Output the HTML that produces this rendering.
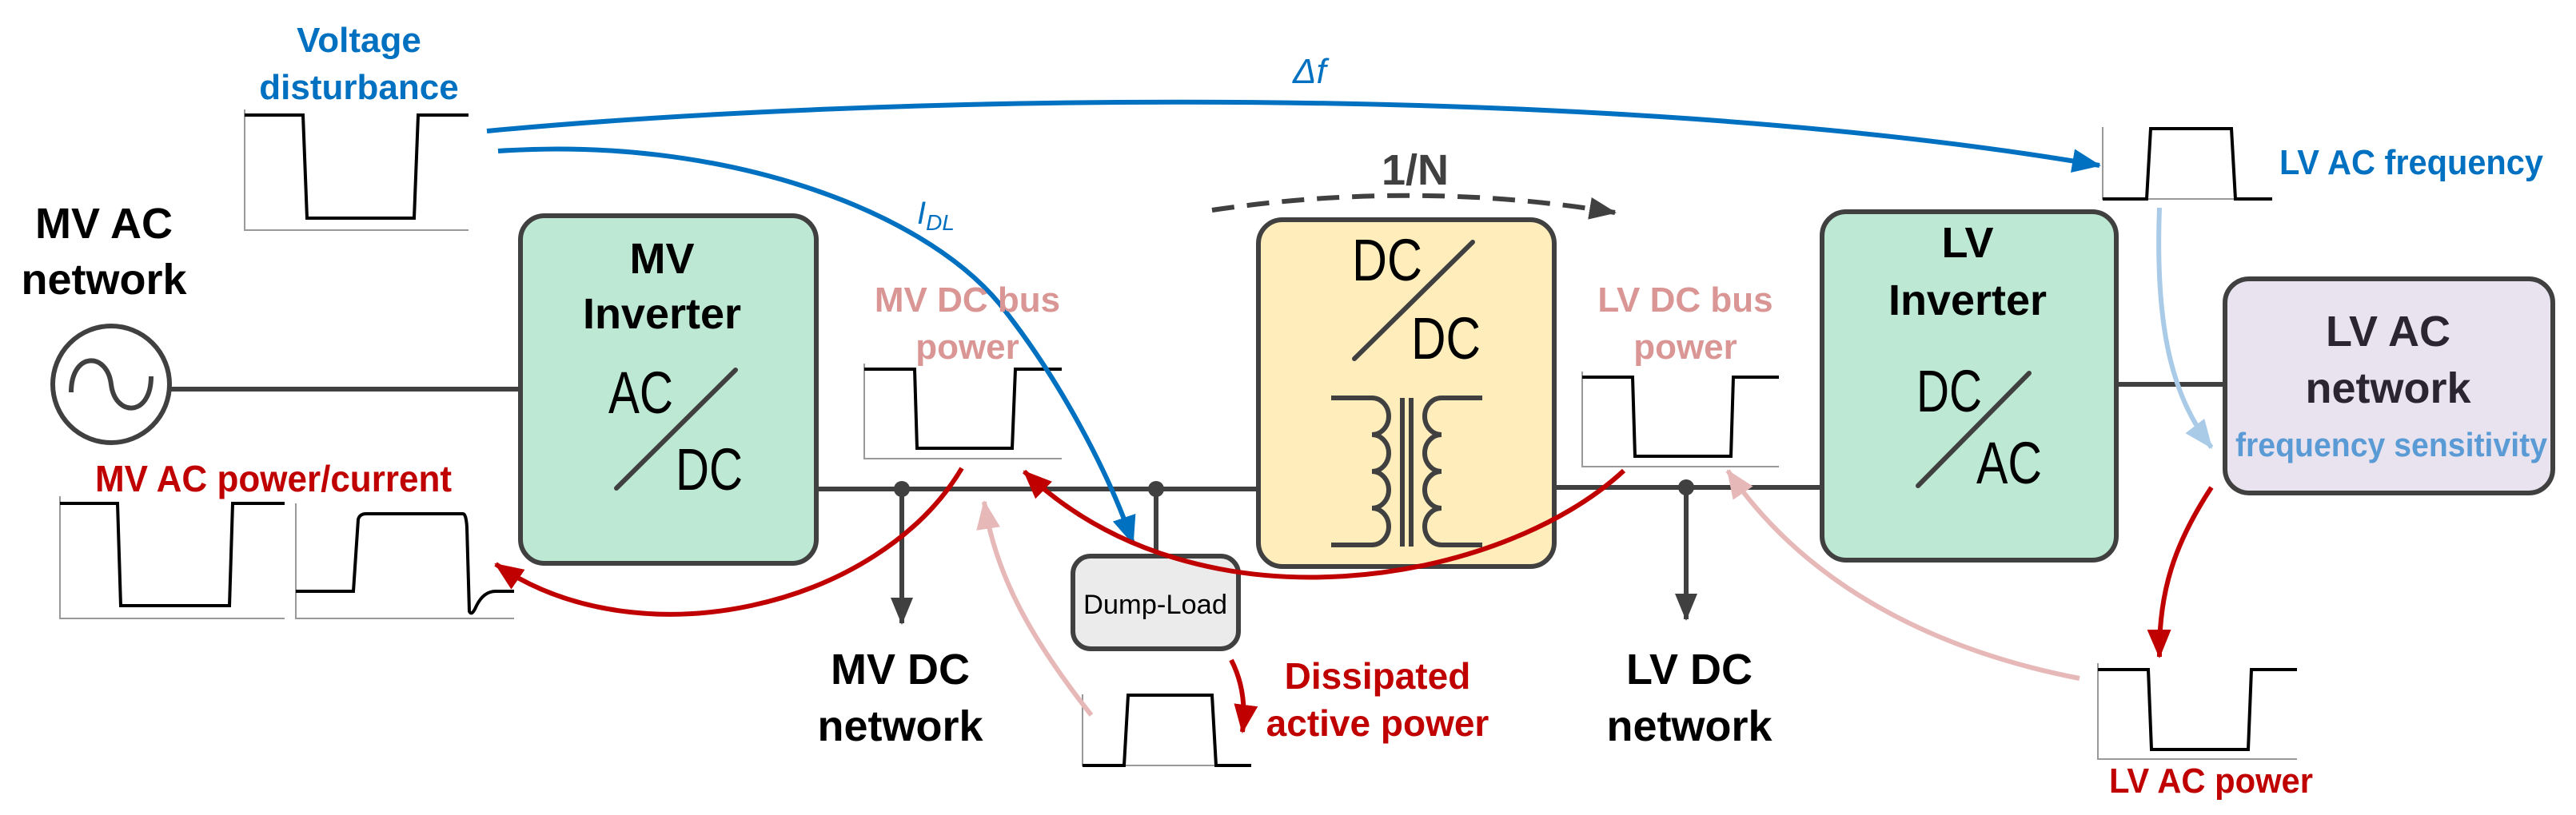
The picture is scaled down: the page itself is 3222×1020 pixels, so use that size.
<!DOCTYPE html>
<html><head><meta charset="utf-8"><style>
html,body{margin:0;padding:0;background:#fff;}
svg{display:block;}
text{font-family:"Liberation Sans",sans-serif;}
.b{font-weight:bold;}
</style></head><body>
<svg width="3222" height="1020" viewBox="0 0 3222 1020" xmlns="http://www.w3.org/2000/svg">
<defs>
<marker id="mb" markerUnits="userSpaceOnUse" markerWidth="36" markerHeight="30" refX="34" refY="15" orient="auto" viewBox="0 0 36 30"><path d="M0,0 L36,15 L0,30 z" fill="#0070c0"/></marker>
<marker id="mr" markerUnits="userSpaceOnUse" markerWidth="36" markerHeight="30" refX="34" refY="15" orient="auto" viewBox="0 0 36 30"><path d="M0,0 L36,15 L0,30 z" fill="#c00000"/></marker>
<marker id="mp" markerUnits="userSpaceOnUse" markerWidth="36" markerHeight="30" refX="34" refY="15" orient="auto" viewBox="0 0 36 30"><path d="M0,0 L36,15 L0,30 z" fill="#e6b9b8"/></marker>
<marker id="ml" markerUnits="userSpaceOnUse" markerWidth="36" markerHeight="30" refX="34" refY="15" orient="auto" viewBox="0 0 36 30"><path d="M0,0 L36,15 L0,30 z" fill="#a9cbe8"/></marker>
<marker id="mg" markerUnits="userSpaceOnUse" markerWidth="34" markerHeight="28" refX="32" refY="14" orient="auto" viewBox="0 0 34 28"><path d="M0,0 L34,14 L0,28 z" fill="#404040"/></marker>
</defs>

<!-- wires -->
<g stroke="#404040" stroke-width="6" fill="none">
<line x1="214" y1="487" x2="651" y2="487"/>
<line x1="1021" y1="612" x2="1575" y2="612"/>
<line x1="1944" y1="610" x2="2279" y2="610"/>
<line x1="2647" y1="481" x2="2783" y2="481"/>
<line x1="1446" y1="612" x2="1446" y2="696"/>
<line x1="1128" y1="612" x2="1128" y2="780" marker-end="url(#mg)"/>
<line x1="2109" y1="610" x2="2109" y2="775" marker-end="url(#mg)"/>
</g>
<circle cx="1128" cy="612" r="10" fill="#404040"/>
<circle cx="1446" cy="612" r="10" fill="#404040"/>
<circle cx="2109" cy="610" r="10" fill="#404040"/>

<!-- source -->
<circle cx="139" cy="481" r="73" fill="#fff" stroke="#404040" stroke-width="6"/>
<path d="M89,491 C89,440 134,440 139,481 C144,522 189,522 189,471" fill="none" stroke="#404040" stroke-width="6"/>
<text x="130" y="298" font-size="54" class="b" text-anchor="middle">MV AC</text>
<text x="130" y="368" font-size="54" class="b" text-anchor="middle">network</text>

<!-- MV inverter -->
<rect x="651" y="270" width="370" height="435" rx="30" fill="#bde8d3" stroke="#404040" stroke-width="6"/>
<text x="828" y="342" font-size="54" class="b" text-anchor="middle">MV</text>
<text x="828" y="411" font-size="54" class="b" text-anchor="middle">Inverter</text>
<text x="761" y="517" font-size="74" textLength="81" lengthAdjust="spacingAndGlyphs">AC</text>
<text x="845" y="613" font-size="74" textLength="84" lengthAdjust="spacingAndGlyphs">DC</text>
<line x1="920" y1="463" x2="771" y2="611" stroke="#404040" stroke-width="6" stroke-linecap="round"/>

<!-- DC/DC -->
<rect x="1574" y="275" width="370" height="434" rx="30" fill="#ffeebb" stroke="#404040" stroke-width="6"/>
<text x="1691" y="351" font-size="74" textLength="88" lengthAdjust="spacingAndGlyphs">DC</text>
<text x="1765" y="449" font-size="74" textLength="87" lengthAdjust="spacingAndGlyphs">DC</text>
<line x1="1842" y1="303" x2="1694" y2="449" stroke="#404040" stroke-width="6" stroke-linecap="round"/>
<g stroke="#404040" stroke-width="6" fill="none">
<path d="M1665,498 H1716 a21,23 0 0 1 0,46 a21,23 0 0 1 0,46 a21,23 0 0 1 0,46 a21,23 0 0 1 0,46 H1665"/>
<path d="M1854,498 H1803 a21,23 0 0 0 0,46 a21,23 0 0 0 0,46 a21,23 0 0 0 0,46 a21,23 0 0 0 0,46 H1854"/>
<line x1="1754" y1="498" x2="1754" y2="684"/>
<line x1="1765" y1="498" x2="1765" y2="684"/>
</g>
<text x="1770" y="231" font-size="54" class="b" text-anchor="middle" fill="#404040">1/N</text>
<path d="M1516,263 Q1772,225 2020,266" fill="none" stroke="#404040" stroke-width="6" stroke-dasharray="28,16" marker-end="url(#mg)"/>

<!-- Dump load -->
<rect x="1342" y="696" width="207" height="116" rx="22" fill="#ebebeb" stroke="#404040" stroke-width="6"/>
<text x="1445" y="768" font-size="34" text-anchor="middle" textLength="180" lengthAdjust="spacingAndGlyphs">Dump-Load</text>

<!-- LV inverter -->
<rect x="2279" y="265" width="368" height="436" rx="30" fill="#bde8d3" stroke="#404040" stroke-width="6"/>
<text x="2461" y="322" font-size="54" class="b" text-anchor="middle">LV</text>
<text x="2461" y="394" font-size="54" class="b" text-anchor="middle">Inverter</text>
<text x="2397" y="515" font-size="74" textLength="82" lengthAdjust="spacingAndGlyphs">DC</text>
<text x="2472" y="605" font-size="74" textLength="82" lengthAdjust="spacingAndGlyphs">AC</text>
<line x1="2538" y1="467" x2="2399" y2="608" stroke="#404040" stroke-width="6" stroke-linecap="round"/>

<!-- LV AC network -->
<rect x="2783" y="349" width="410" height="268" rx="30" fill="#e8e3ef" stroke="#404040" stroke-width="6"/>
<text x="2987" y="433" font-size="54" class="b" text-anchor="middle" fill="#2a2530">LV AC</text>
<text x="2987" y="504" font-size="54" class="b" text-anchor="middle" fill="#2a2530">network</text>
<text x="2796" y="571" font-size="42" class="b" fill="#5b9bd5" textLength="390" lengthAdjust="spacingAndGlyphs">frequency sensitivity</text>

<!-- plots -->
<g fill="none">
<!-- voltage disturbance -->
<path d="M306,137 V288 H586" stroke="#999" stroke-width="2"/>
<path d="M306,144 H379 L384,273 H518 L523,144 H586" stroke="#000" stroke-width="4"/>
<!-- MV AC plot1 -->
<path d="M75,621 V774 H356" stroke="#999" stroke-width="2"/>
<path d="M75,630 H147 L151,758 H287 L291,630 H356" stroke="#000" stroke-width="4"/>
<!-- MV AC plot2 -->
<path d="M370,630 V774 H643" stroke="#999" stroke-width="2"/>
<path d="M370,740 H442 L448,650 Q450,643 458,643 H579 Q583,643 584,660 L587,765 Q590,772 596,758 Q605,740 620,740 H643" stroke="#000" stroke-width="4"/>
<!-- MV DC plot -->
<path d="M1081,455 V574 H1328" stroke="#999" stroke-width="2"/>
<path d="M1081,462 H1144 L1147,561 H1266 L1270,462 H1328" stroke="#000" stroke-width="4"/>
<!-- Dump plot -->
<path d="M1354,869 V958 H1565" stroke="#999" stroke-width="2"/>
<path d="M1354,958 H1406 L1411,870 H1516 L1521,958 H1565" stroke="#000" stroke-width="4"/>
<!-- LV DC plot -->
<path d="M1979,465 V584 H2225" stroke="#999" stroke-width="2"/>
<path d="M1979,472 H2042 L2045,571 H2165 L2168,472 H2225" stroke="#000" stroke-width="4"/>
<!-- LV AC freq plot -->
<path d="M2630,159 V249 H2842" stroke="#999" stroke-width="2"/>
<path d="M2630,249 H2685 L2690,161 H2791 L2796,249 H2842" stroke="#000" stroke-width="4"/>
<!-- LV AC power plot -->
<path d="M2624,830 V950 H2873" stroke="#999" stroke-width="2"/>
<path d="M2624,838 H2687 L2691,938 H2812 L2816,838 H2873" stroke="#000" stroke-width="4"/>
</g>

<!-- connectors -->
<g fill="none" stroke-width="6">
<path d="M609,164 C1100,118 2000,100 2626,207" stroke="#0070c0" marker-end="url(#mb)"/>
<path d="M623,189 C900,170 1150,260 1250,380 C1330,480 1390,600 1417,680" stroke="#0070c0" marker-end="url(#mb)"/>
<path d="M1203,586 C1100,760 800,830 620,706" stroke="#c00000" marker-end="url(#mr)"/>
<path d="M2031,589 C1880,730 1500,800 1281,590" stroke="#c00000" marker-end="url(#mr)"/>
<path d="M1365,895 C1290,800 1245,720 1231,628" stroke="#e6b9b8" marker-end="url(#mp)"/>
<path d="M1540,826 C1555,855 1558,885 1554,916" stroke="#c00000" marker-end="url(#mr)"/>
<path d="M2701,260 C2695,420 2720,500 2766,560" stroke="#a9cbe8" marker-end="url(#ml)"/>
<path d="M2766,610 C2720,680 2700,740 2701,822" stroke="#c00000" marker-end="url(#mr)"/>
<path d="M2601,849 C2400,810 2250,720 2161,589" stroke="#e6b9b8" marker-end="url(#mp)"/>
</g>

<!-- labels -->
<text x="449" y="65" font-size="44" class="b" text-anchor="middle" fill="#0070c0">Voltage</text>
<text x="449" y="124" font-size="44" class="b" text-anchor="middle" fill="#0070c0">disturbance</text>
<text x="119" y="615" font-size="46" class="b" fill="#c00000" textLength="446" lengthAdjust="spacingAndGlyphs">MV AC power/current</text>
<text x="1617" y="104" font-size="44" font-style="italic" fill="#0070c0">Δf</text>
<text x="1147" y="280" font-size="40" font-style="italic" fill="#0070c0">I<tspan font-size="28" dy="8">DL</tspan></text>
<text x="1210" y="390" font-size="44" class="b" text-anchor="middle" fill="#d99694">MV DC bus</text>
<text x="1210" y="449" font-size="44" class="b" text-anchor="middle" fill="#d99694">power</text>
<text x="2108" y="390" font-size="44" class="b" text-anchor="middle" fill="#d99694">LV DC bus</text>
<text x="2108" y="449" font-size="44" class="b" text-anchor="middle" fill="#d99694">power</text>
<text x="1126" y="856" font-size="54" class="b" text-anchor="middle">MV DC</text>
<text x="1126" y="927" font-size="54" class="b" text-anchor="middle">network</text>
<text x="2113" y="856" font-size="54" class="b" text-anchor="middle">LV DC</text>
<text x="2113" y="927" font-size="54" class="b" text-anchor="middle">network</text>
<text x="1723" y="862" font-size="46" class="b" text-anchor="middle" fill="#c00000">Dissipated</text>
<text x="1723" y="921" font-size="46" class="b" text-anchor="middle" fill="#c00000">active power</text>
<text x="2851" y="218" font-size="44" class="b" fill="#0070c0" textLength="330" lengthAdjust="spacingAndGlyphs">LV AC frequency</text>
<text x="2638" y="992" font-size="44" class="b" fill="#c00000" textLength="255" lengthAdjust="spacingAndGlyphs">LV AC power</text>
</svg>
</body></html>
